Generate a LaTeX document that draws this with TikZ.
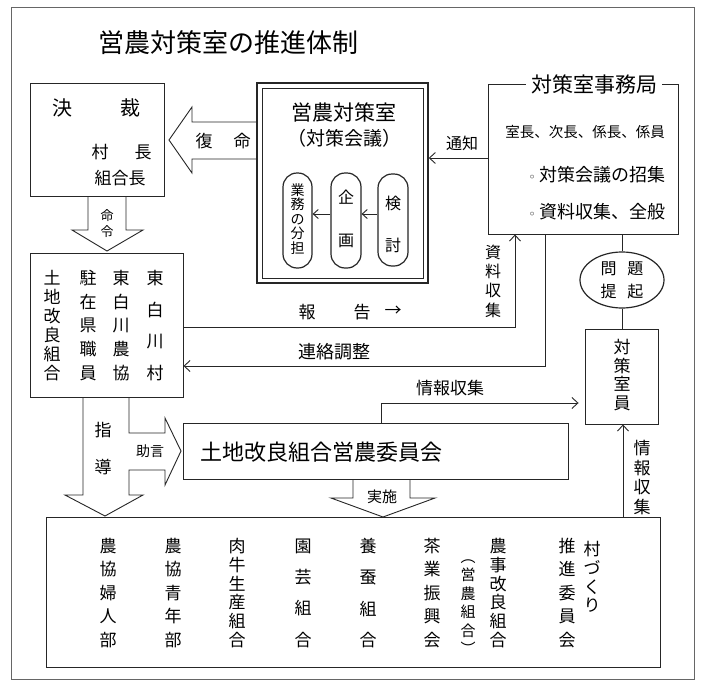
\documentclass[tikz,border=0pt]{standalone}
\usepackage{fontspec}
\setmainfont{Noto Sans CJK JP}
\newfontfamily\dvfont{DejaVu Sans}
\usetikzlibrary{arrows.meta,shapes.geometric,calc}
\newcommand\fs[2]{\fontsize{#1}{#2}\selectfont}
\begin{document}
\begin{tikzpicture}[x=1pt,y=-1pt,
 ln/.style={draw=black!85, line width=0.9pt},
 box/.style={ln, inner sep=0pt, rectangle},
 pill/.style={ln, line width=1.2pt, rounded corners=14pt, inner sep=0pt},
 arr/.style={ln, -{Straight Barb[length=6pt,width=11pt]}},
 sarr/.style={ln, -{Straight Barb[length=5pt,width=9pt]}},
 blk/.style={ln, line join=miter},
 vt/.style={align=center, inner sep=0pt},
 lbl/.style={inner sep=0pt}
]
\useasboundingbox (0,0) rectangle (702,683);
\fill[white] (0,0) rectangle (702,683);
\draw[draw=black!60, line width=0.7pt] (11,7) rectangle (694,679);

% title
\node[lbl, font=\fs{26}{30}] (title) at (228,43) {営農対策室の推進体制};

% boxes
\node[box, minimum width=134pt, minimum height=113pt] (kessai) at (97,139.5) {};
\node[box, line width=1.5pt, minimum width=171pt, minimum height=200pt] (shitsuO) at (342.5,183) {};
\node[box, minimum width=161pt, minimum height=190pt] (shitsuI) at (342.5,183) {};
\node[pill, minimum width=29pt, minimum height=95pt] (gyomu) at (297.5,220.5) {};
\node[pill, minimum width=30pt, minimum height=95pt] (kikaku) at (346,220.5) {};
\node[pill, minimum width=30pt, minimum height=92pt] (kento) at (393,220) {};
\node[box, minimum width=190pt, minimum height=150pt] (jimu) at (583,159) {};
\node[ellipse, ln, line width=1.2pt, minimum width=84pt, minimum height=56pt, inner sep=0pt,
      align=center, font=\fs{16}{23}] (mondai) at (622,280) {問\hspace{11pt}題\\提\hspace{11pt}起};
\node[box, minimum width=73pt, minimum height=95pt] (taisakuin) at (621.5,376.5) {};
\node[box, minimum width=153pt, minimum height=144pt] (leftbox) at (106.5,325) {};
\node[box, minimum width=385pt, minimum height=56pt] (iinkai) at (375.5,451) {};
\node[box, minimum width=614pt, minimum height=150pt] (bottom) at (353,592) {};

% block arrows
\draw[blk] (88,196) -- (88,230) -- (72,230) -- (107,251) -- (143,230) -- (126,230) -- (126,196);
\draw[blk] (257,122) -- (192,122) -- (192,107) -- (169,140) -- (192,173) -- (192,159) -- (257,159);
\draw[blk] (83,397) -- (83,495) -- (65,495) -- (105,516) -- (143,495) -- (129,495) -- (129,470)
  -- (165,470) -- (165,485) -- (181,451) -- (165,418) -- (165,433) -- (129,433) -- (129,397);
\draw[blk] (353,479) -- (353,498) -- (331,498) -- (383,517) -- (435,498) -- (410,498) -- (410,479);

% connectors
\draw[arr] (jimu.west |- 0,158) -- (shitsuO.east |- 0,158);
\draw[sarr] (kento.west |- 0,214) -- (kikaku.east |- 0,214);
\draw[sarr] (kikaku.west |- 0,214) -- (gyomu.east |- 0,214);
\draw[ln] (mondai.north |- jimu.south) -- (mondai.north);
\draw[ln] (mondai.south) -- (mondai.south |- taisakuin.north);
\draw[arr] (623,0 |- bottom.north) -- (623,0 |- taisakuin.south);
\draw[arr, shorten >=6pt] (381,0 |- iinkai.north) |- (taisakuin.west |- 0,403);
\draw[arr] (leftbox.east |- 0,327) -| (515,0 |- jimu.south);
\draw[arr] (545,0 |- jimu.south) |- (leftbox.east |- 0,366);

% texts: top left
\node[lbl, font=\fs{20}{24}] (ketsu) at (62,108) {決};
\node[lbl, font=\fs{20}{24}] (sai) at (130,108) {裁};
\node[lbl, font=\fs{17}{20}] (son) at (100,152) {村};
\node[lbl, font=\fs{17}{20}] (cho) at (143,152) {長};
\node[lbl, font=\fs{17}{20}] (kumicho) at (120,178) {組合長};
\node[lbl, font=\fs{17}{20}] (fuku) at (204,141) {復};
\node[lbl, font=\fs{17}{20}] (mei) at (242,141) {命};
\node[vt, font=\fs{13}{16}] (meirei) at (107,224) {命\\令};

% taisakushitsu
\node[lbl, font=\fs{21}{24}] (eino) at (344,112) {営農対策室};
\node[lbl, font=\fs{19}{22}] (kaigi) at (344,138) {（対策会議）};
\node[vt, font=\fs{14}{14.5}] (gyomuT) at (297.5,219) {業\\務\\の\\分\\担};
\node[lbl, font=\fs{16}{18}] (ki) at (346,197) {企};
\node[lbl, font=\fs{16}{18}] (ga) at (346,241) {画};
\node[lbl, font=\fs{16}{18}] (ken) at (393,203) {検};
\node[lbl, font=\fs{16}{18}] (to) at (393,245) {討};
\node[lbl, font=\fs{16}{18}] (tsuchi) at (462,143) {通知};

% jimukyoku
\node[lbl, fill=white, inner xsep=5pt, inner ysep=2pt, font=\fs{21}{24}] (jimuT) at (594,85) {対策室事務局};
\node[lbl, font=\fs{14.5}{17}] (yaku) at (585,132) {室長、次長、係長、係員};
\node[lbl, anchor=east, font=\fs{18}{20}] (shoshu) at (666,175) {{\dvfont\fontsize{12}{14}\selectfont ◦}\hspace{4pt}対策会議の招集};
\node[lbl, anchor=east, font=\fs{18}{20}] (zenpan) at (666,212) {{\dvfont\fontsize{12}{14}\selectfont ◦}\hspace{4pt}資料収集、全般};

% middle labels
\node[vt, font=\fs{16}{19.3}] (shiryo) at (493,281) {資\\料\\収\\集};
\node[lbl, font=\fs{17}{20}] (ho) at (307,312) {報};
\node[lbl, font=\fs{17}{20}] (koku) at (362,312) {告};
\node[lbl, font=\fs{17}{20}] (yaji) at (393,311) {→};
\node[lbl, font=\fs{18}{20}] (renraku) at (334,352) {連絡調整};
\node[vt, font=\fs{17}{18.7}] (taisakuinT) at (622,375) {対\\策\\室\\員};
\node[vt, font=\fs{17}{19.7}] (joho1) at (642,477.5) {情\\報\\収\\集};
\node[lbl, font=\fs{17}{20}] (joho2) at (450,388) {情報収集};

% left box columns
\node[vt, font=\fs{17}{19}] (l1) at (52,325.5) {土\\地\\改\\良\\組\\合};
\node[vt, font=\fs{17}{23.75}] (l2) at (88,325.5) {駐\\在\\県\\職\\員};
\node[vt, font=\fs{17}{23.75}] (l3) at (121,325.5) {東\\白\\川\\農\\協};
\node[vt, font=\fs{17}{31.67}] (l4) at (155,325.5) {東\\白\\川\\村};

% lower
\node[lbl, font=\fs{17}{20}] (shi) at (103,430) {指};
\node[lbl, font=\fs{17}{20}] (do) at (103,467) {導};
\node[lbl, font=\fs{14}{16}] (jogen) at (150,451) {助言};
\node[lbl, font=\fs{22}{24}] (iinkaiT) at (321.5,452) {土地改良組合営農委員会};
\node[lbl, font=\fs{15}{18}] (jisshi) at (382,497) {実施};

% bottom columns
\node[vt, font=\fs{17}{23.5}] (b1) at (108,593) {農\\協\\婦\\人\\部};
\node[vt, font=\fs{17}{23.5}] (b2) at (173,593) {農\\協\\青\\年\\部};
\node[vt, font=\fs{17}{18.8}] (b3) at (237,593) {肉\\牛\\生\\産\\組\\合};
\node[vt, font=\fs{17}{31.3}] (b4) at (303,593) {園\\芸\\組\\合};
\node[vt, font=\fs{17}{31.3}] (b5) at (368,593) {養\\蚕\\組\\合};
\node[vt, font=\fs{17}{23.5}] (b6) at (432,593) {茶\\業\\振\\興\\会};
\node[vt, font=\fs{15}{18.5}] (b7) at (468,607) {︵\\営\\農\\組\\合\\︶};
\node[vt, font=\fs{17}{18.8}] (b8) at (498,593) {農\\事\\改\\良\\組\\合};
\node[vt, font=\fs{17}{23.5}] (b9) at (567,593) {推\\進\\委\\員\\会};
\node[vt, font=\fs{17}{18.7}] (b10) at (592,577) {村\\づ\\く\\り};
\end{tikzpicture}
\end{document}
